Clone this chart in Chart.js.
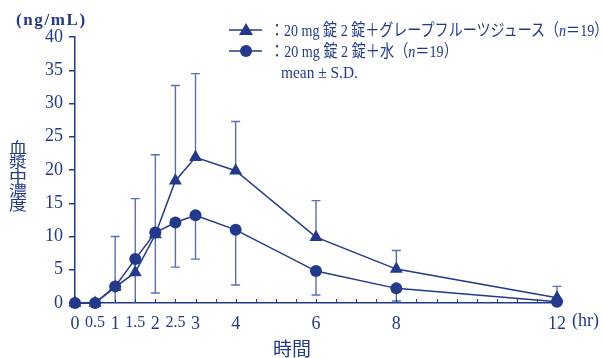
<!DOCTYPE html>
<html>
<head>
<meta charset="utf-8">
<script src="https://cdn.jsdelivr.net/npm/chart.js@4"></script>
<style>
  body { margin: 0; background: #fff; }
  #wrap { position: relative; width: 604px; height: 358px; overflow: hidden; }
  #myChart { position: absolute; left: 0; top: 0; }
  .lbl { position: absolute; color: #22398c; white-space: nowrap; }
  .leg { font-family: "Liberation Serif", "Noto Sans CJK JP", serif; font-size: 17px; line-height: 20px; }
  .fit { display: inline-block; transform-origin: 0 50%; }
  .jp { font-family: "Noto Sans CJK JP", sans-serif; }
</style>
</head>
<body>
<div id="wrap">
  <canvas id="myChart" width="604" height="358"></canvas>
  <div class="lbl" style="left:16px;top:10px;font-family:'Liberation Serif',serif;font-size:17px;font-weight:bold;letter-spacing:1.6px;">(ng/mL)</div>
  <div class="lbl jp" style="left:9px;top:139px;font-size:18px;line-height:17px;transform:scaleY(0.85);transform-origin:0 0;">血<br>漿<br>中<br>濃<br>度</div>
  <div class="lbl jp" style="left:273px;top:337px;font-size:19px;line-height:22px;">時間</div>
  <div class="lbl" style="left:572px;top:310px;font-family:'Liberation Serif',serif;font-size:18px;">(hr)</div>
  <div class="lbl leg" style="left:229px;top:21px;">
    <svg width="34" height="14" style="vertical-align:-1px"><line x1="0" y1="7" x2="33" y2="7" stroke="#22398c" stroke-width="1.5"/><polygon points="17,0 24,12 10,12" fill="#22398c"/></svg>
  </div>
  <div class="lbl leg" style="left:270px;top:21px;"><span class="fit" data-w="338">：20 mg 錠 2 錠＋グレープフルーツジュース（<i>n</i>＝19）</span></div>
  <div class="lbl leg" style="left:229px;top:42px;">
    <svg width="34" height="14" style="vertical-align:-1px"><line x1="0" y1="7" x2="33" y2="7" stroke="#22398c" stroke-width="1.5"/><circle cx="17" cy="7" r="6" fill="#22398c"/></svg>
  </div>
  <div class="lbl leg" style="left:270px;top:42px;"><span class="fit" data-w="188">：20 mg 錠 2 錠＋水（<i>n</i>＝19）</span></div>
  <div class="lbl leg" style="left:281px;top:63px;"><span class="fit" data-w="77">mean ± S.D.</span></div>
</div>
<script>
// sampling times (hr)
var times = [0, 0.5, 1, 1.5, 2, 2.5, 3, 4, 6, 8, 12];
var xTickLabels = [0, 0.5, 1, 1.5, 2, 2.5, 3, 4, 6, 8, 12];
var yTickLabels = [0, 5, 10, 15, 20, 25, 30, 35, 40];

// 20 mg x2 + grapefruit juice
var gfMean = [0, 0, 2.4, 4.6, 10.3, 18.4, 21.9, 19.9, 9.9, 5.1, 0.8];
var gfSD = [0, 0, 7.6, 11.1, 12.0, 14.3, 12.6, 7.4, 5.5, 2.8, 1.7];
// 20 mg x2 + water
var wMean = [0, 0, 2.5, 6.6, 10.6, 12.1, 13.2, 11.0, 4.8, 2.2, 0.2];
var wSD = [0, 0, 3.0, 7.5, 9.1, 6.7, 6.6, 8.3, 3.6, 1.9, 0.3];

var navy = '#22398c';
var barColor = '#5a6fb4';

// squeeze legend lines to the condensed width of the original
document.querySelectorAll('.fit').forEach(function (el) {
    var w = parseFloat(el.getAttribute('data-w'));
    el.style.transform = 'scaleX(' + (w / el.offsetWidth) + ')';
});

function toPoints(xs, ys) {
    var pts = [];
    for (var i = 0; i < xs.length; i++) {
        pts.push({x: xs[i], y: ys[i]});
    }
    return pts;
}

// SD whiskers: grapefruit upward, water downward
var errorBars = {
    id: 'errorBars',
    beforeDatasetsDraw: function (chart) {
        var ctx = chart.ctx;
        var xs = chart.scales.x;
        var ys = chart.scales.y;
        ctx.save();
        ctx.strokeStyle = barColor;
        ctx.lineWidth = 1.4;
        function whisker(t, m, sd, dir) {
            if (sd <= 0) return;
            var end = m + dir * sd;
            var clamped = false;
            if (end < 0) { end = 0; clamped = true; }
            var px = xs.getPixelForValue(t);
            var y0 = ys.getPixelForValue(m);
            var y1 = ys.getPixelForValue(end);
            ctx.beginPath();
            ctx.moveTo(px, y0);
            ctx.lineTo(px, y1);
            if (!clamped) {
                ctx.moveTo(px - 4.5, y1);
                ctx.lineTo(px + 4.5, y1);
            }
            ctx.stroke();
        }
        for (var i = 0; i < times.length; i++) {
            whisker(times[i], gfMean[i], gfSD[i], 1);
            whisker(times[i], wMean[i], wSD[i], -1);
        }
        ctx.restore();
    }
};

// small inward ticks on the time axis
var xMinorTicks = {
    id: 'xMinorTicks',
    afterDraw: function (chart) {
        var ctx = chart.ctx;
        var xs = chart.scales.x;
        var bottom = chart.chartArea.bottom;
        ctx.save();
        ctx.strokeStyle = navy;
        ctx.lineWidth = 1;
        for (var t = 0; t <= 12; t += 0.5) {
            var px = Math.round(xs.getPixelForValue(t)) + 0.5;
            ctx.beginPath();
            ctx.moveTo(px, bottom);
            ctx.lineTo(px, bottom - 4);
            ctx.stroke();
        }
        ctx.restore();
    }
};

const ctx = document.getElementById('myChart');

new Chart(ctx, {
    type: 'line',
    data: {
        datasets: [{
            label: 'gf',
            data: toPoints(times, gfMean),
            borderColor: navy,
            backgroundColor: navy,
            borderWidth: 1.5,
            pointStyle: 'triangle',
            pointRadius: 7.5,
            pointBorderWidth: 0,
            clip: false
        }, {
            label: 'water',
            data: toPoints(times, wMean),
            borderColor: navy,
            backgroundColor: navy,
            borderWidth: 1.5,
            pointStyle: 'circle',
            pointRadius: 6,
            pointBorderWidth: 0,
            clip: false
        }]
    },
    options: {
        responsive: false,
        animation: false,
        events: [],
        layout: {
            padding: {left: 0, right: 47, top: 37, bottom: 0}
        },
        plugins: {
            legend: {display: false},
            tooltip: {enabled: false}
        },
        scales: {
            x: {
                type: 'linear',
                min: 0,
                max: 12,
                afterFit: function (scale) { scale.height = 55; },
                afterBuildTicks: function (scale) {
                    scale.ticks = xTickLabels.map(function (v) { return {value: v}; });
                },
                grid: {display: false, drawTicks: false},
                border: {display: true, color: navy, width: 1.5},
                ticks: {
                    autoSkip: false,
                    maxRotation: 0,
                    padding: 10,
                    color: navy,
                    font: function (c) {
                        var v = c.tick ? c.tick.value : 0;
                        if (v % 1 !== 0) {
                            return {family: 'Liberation Serif', size: 16};
                        }
                        return {family: 'Liberation Serif', size: 18};
                    },
                    callback: function (v) { return String(v); }
                }
            },
            y: {
                min: 0,
                max: 40,
                afterFit: function (scale) { scale.width = 75; },
                afterBuildTicks: function (scale) {
                    scale.ticks = yTickLabels.map(function (v) { return {value: v}; });
                },
                grid: {drawOnChartArea: false, drawTicks: true, tickLength: 6, color: navy, lineWidth: 1.5},
                border: {display: true, color: navy, width: 1.5},
                ticks: {
                    padding: 6,
                    color: navy,
                    font: {family: 'Liberation Serif', size: 18}
                }
            }
        }
    },
    plugins: [errorBars, xMinorTicks]
});
</script>
</body>
</html>
